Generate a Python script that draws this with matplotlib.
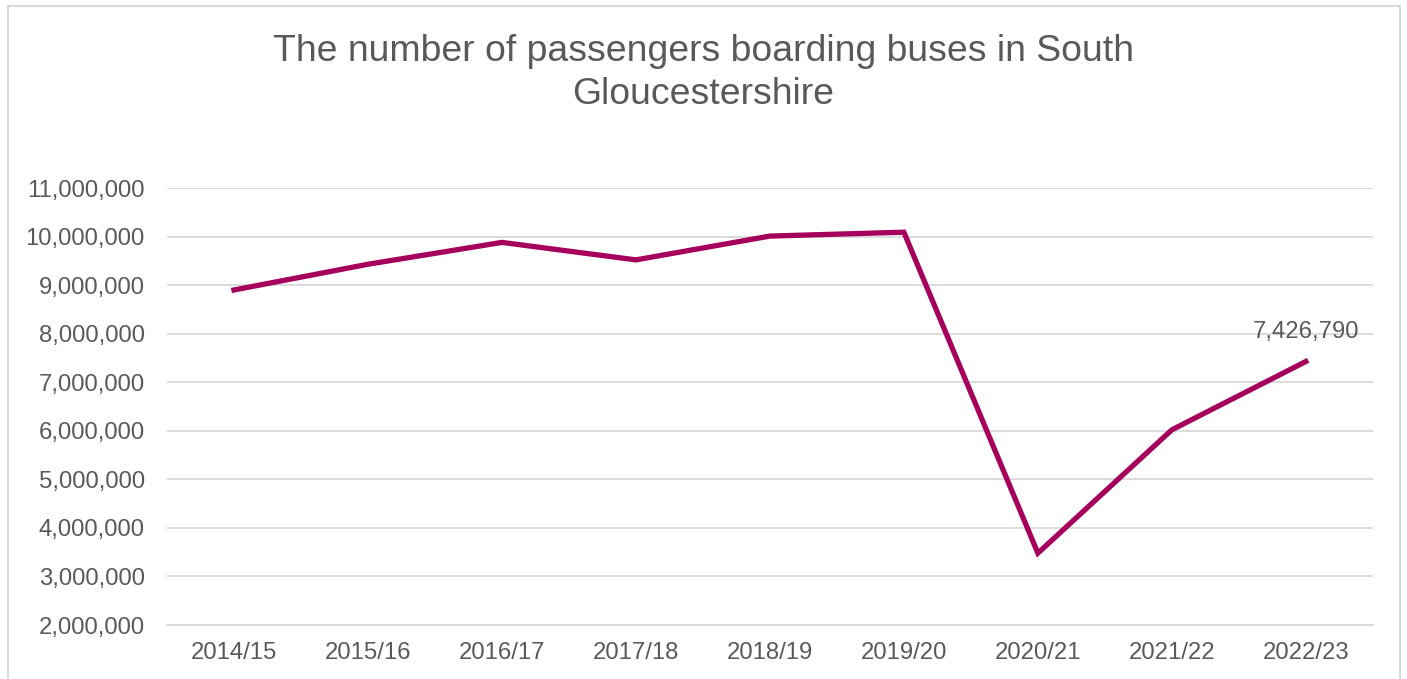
import matplotlib.pyplot as plt
from matplotlib.patches import Rectangle
from matplotlib.ticker import FuncFormatter

years = ['2014/15', '2015/16', '2016/17', '2017/18', '2018/19',
         '2019/20', '2020/21', '2021/22', '2022/23']
passengers = [8900000, 9430000, 9880000, 9520000, 10010000,
              10090000, 3480000, 6020000, 7426790]

plt.rcParams['font.family'] = ['Liberation Sans', 'DejaVu Sans']
grey = '#595959'
line_col = '#A5005B'

fig = plt.figure(figsize=(14.07, 6.79), dpi=100)
ax = fig.add_axes([0.1187, 0.0795, 0.857, 0.6436])

x = list(range(len(years)))
ax.plot(x, passengers, color=line_col, linewidth=3.8, solid_joinstyle='miter', zorder=3)

ax.set_xlim(-0.5, len(years) - 0.5)
ax.set_ylim(2000000, 11000000)
ax.set_yticks(range(2000000, 11000001, 1000000))
ax.yaxis.set_major_formatter(FuncFormatter(lambda v, p: f'{int(v):,}'))
ax.set_xticks(x)
ax.set_xticklabels(years)
ax.tick_params(length=0, labelsize=17.2, colors=grey, pad=12)
ax.tick_params(axis='y', pad=16)
ax.grid(axis='y', color='#d9d9d9', linewidth=1.3)
ax.set_axisbelow(True)
for s in ['top', 'right', 'left']:
    ax.spines[s].set_visible(False)
ax.spines['bottom'].set_color('#d9d9d9')
ax.spines['bottom'].set_linewidth(1.3)

# label on the last point only
ax.annotate(f'{passengers[-1]:,}', (x[-1], passengers[-1]), xytext=(0, 13),
            textcoords='offset points', ha='center', va='bottom',
            fontsize=17.2, color=grey)

fig.text(0.5, 0.892, 'The number of passengers boarding buses in South\nGloucestershire',
         ha='center', va='center', fontsize=26.9, color=grey, linespacing=1.29)

fig.patches.append(Rectangle((8 / 1407, -0.05), (1400 - 8) / 1407, 1 - 6 / 679 + 0.05,
                             transform=fig.transFigure, fill=False,
                             edgecolor='#d9d9d9', linewidth=1.5))

fig.savefig('out.png', dpi=100)
